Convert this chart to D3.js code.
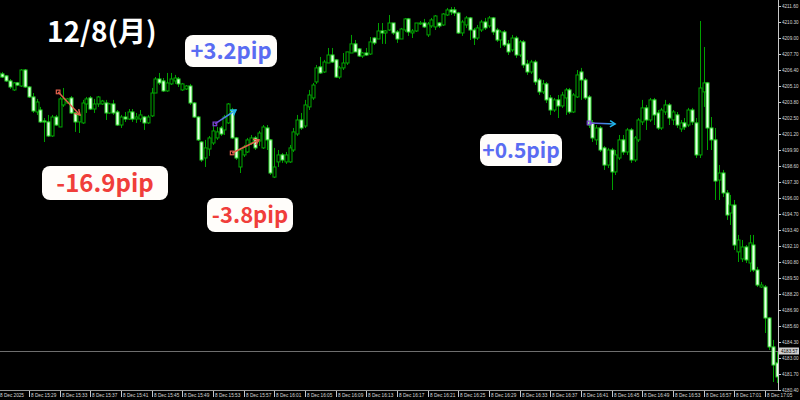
<!DOCTYPE html>
<html>
<head>
<meta charset="utf-8">
<script src="https://cdn.jsdelivr.net/npm/d3@7/dist/d3.min.js"></script>
<style>
  html, body { margin: 0; padding: 0; background: #000; overflow: hidden; }
  svg { display: block; }
</style>
</head>
<body>
<svg id="chart"></svg>
<script>
// 30秒足 OHLC (8 Dec 2025 15:25 - 17:06)
const open = [
  4205.83,4206.08,4205.92,4205.51,4204.78,4205.35,4205.10,4206.40,4205.02,4204.21,
  4202.99,4203.15,4202.26,4202.18,4201.04,4202.58,4201.77,4203.56,4203.72,4204.13,
  4202.91,4202.18,4202.10,4203.64,4204.13,4203.23,4203.64,4203.64,4203.72,4202.91,
  4203.64,4202.99,4201.93,4202.58,4202.42,4202.99,4202.42,4202.42,4202.58,4202.10,
  4202.67,4204.53,4205.67,4205.51,4204.70,4205.27,4205.51,4205.67,4204.78,4204.86,
  4205.10,4203.72,4202.58,4200.55,4199.25,4199.98,4200.47,4200.88,4201.69,4201.53,
  4202.10,4203.15,4200.88,4198.52,4199.50,4199.74,4200.47,4200.88,4200.63,4200.07,
  4201.69,4200.72,4197.70,4198.93,4199.50,4198.93,4198.93,4199.90,4201.20,4202.34,
  4201.85,4203.40,4204.13,4205.43,4206.65,4206.24,4206.97,4207.62,4207.22,4205.83,
  4206.57,4206.97,4207.78,4208.52,4208.11,4207.54,4207.78,4207.70,4209.00,4208.92,
  4209.57,4209.41,4209.65,4210.22,4209.49,4208.92,4209.65,4210.55,4209.41,4209.57,
  4210.14,4210.22,4209.25,4209.98,4209.90,4210.22,4210.06,4210.87,4211.28,4211.28,
  4211.03,4209.41,4210.06,4210.63,4209.65,4209.00,4209.65,4210.30,4209.98,4210.63,
  4209.65,4208.84,4209.49,4208.52,4208.03,4209.00,4207.62,4208.68,4206.89,4206.24,
  4207.05,4205.59,4204.62,4205.27,4204.13,4203.15,4203.97,4203.48,4204.13,4204.78,
  4202.99,4204.21,4206.24,4205.59,4204.21,4202.10,4200.72,4201.69,4200.07,4198.68,
  4199.90,4198.12,4199.25,4200.72,4199.74,4201.53,4199.09,4200.72,4202.18,4203.32,
  4202.34,4203.97,4202.91,4201.69,4202.99,4203.56,4202.34,4202.75,4201.61,4202.10,
  4201.93,4203.15,4202.10,4199.50,4204.62,4205.35,4201.69,4200.72,4197.46,4198.03,
  4196.41,4194.78,4195.43,4191.62,4191.05,4192.02,4190.72,4192.18,4190.15,4188.77,
  4188.77,4186.25,4183.90,4182.60
];
const high = [
  4206.32,4206.24,4206.00,4205.67,4205.43,4205.43,4206.48,4206.48,4205.10,4204.53,
  4204.05,4203.40,4202.50,4202.75,4202.75,4202.75,4204.21,4204.94,4204.13,4204.29,
  4202.99,4202.99,4203.97,4204.21,4204.29,4204.05,4204.29,4203.97,4203.97,4203.72,
  4203.97,4203.15,4202.75,4202.99,4203.23,4203.23,4202.91,4203.15,4202.67,4202.75,
  4204.94,4205.83,4206.16,4205.75,4206.16,4206.16,4206.00,4205.83,4205.35,4205.18,
  4205.27,4203.80,4202.67,4200.63,4200.72,4201.04,4202.10,4201.77,4201.85,4202.75,
  4203.72,4203.32,4200.96,4200.07,4200.31,4200.88,4201.12,4201.04,4201.45,4201.93,
  4201.93,4200.80,4200.07,4199.90,4199.66,4199.74,4200.31,4201.69,4202.75,4202.91,
  4203.97,4204.78,4205.35,4206.81,4207.46,4207.22,4208.19,4208.19,4207.30,4206.73,
  4207.78,4207.87,4209.25,4208.84,4208.19,4207.87,4208.19,4209.08,4209.08,4210.22,
  4210.22,4209.65,4210.87,4210.22,4209.65,4209.82,4210.63,4210.63,4209.73,4210.22,
  4210.38,4210.55,4210.30,4210.63,4210.87,4210.30,4211.03,4211.44,4211.52,4211.52,
  4211.12,4210.47,4210.79,4210.71,4209.82,4210.06,4210.47,4210.63,4210.79,4210.71,
  4209.82,4209.65,4209.65,4208.84,4209.25,4209.17,4208.84,4208.84,4207.22,4207.22,
  4207.22,4205.75,4205.59,4205.43,4204.37,4204.13,4204.37,4204.62,4204.94,4204.94,
  4204.53,4206.40,4206.57,4205.75,4204.37,4202.34,4201.93,4201.85,4200.23,4200.07,
  4200.07,4199.90,4201.12,4201.12,4201.69,4201.69,4201.04,4202.50,4203.97,4203.56,
  4204.13,4204.13,4203.15,4203.32,4203.97,4203.72,4203.15,4202.99,4202.34,4202.50,
  4203.32,4203.32,4202.50,4210.38,4208.27,4205.43,4202.58,4201.69,4198.68,4198.28,
  4196.65,4196.25,4195.84,4193.00,4192.59,4192.18,4193.00,4193.00,4190.40,4189.18,
  4188.93,4186.33,4184.47,4183.49
];
const low = [
  4205.75,4205.75,4205.43,4204.86,4204.70,4205.10,4205.02,4204.94,4204.13,4202.91,
  4202.75,4202.10,4200.55,4200.96,4200.96,4201.85,4201.77,4203.40,4203.64,4202.83,
  4201.37,4201.28,4202.02,4202.91,4203.15,4202.91,4203.40,4203.56,4202.34,4202.83,
  4202.75,4201.85,4201.69,4202.18,4202.34,4202.18,4202.10,4202.18,4201.53,4202.02,
  4202.58,4204.53,4205.18,4204.62,4204.62,4205.18,4205.27,4205.02,4204.70,4204.78,
  4203.56,4202.50,4200.63,4198.93,4198.52,4199.42,4200.31,4200.72,4201.04,4201.12,
  4202.02,4200.80,4199.09,4198.03,4199.33,4199.66,4200.31,4199.90,4200.23,4199.98,
  4199.90,4197.87,4197.62,4198.52,4198.85,4198.77,4198.85,4199.74,4201.04,4201.53,
  4201.69,4203.15,4203.97,4205.27,4206.08,4206.16,4206.97,4206.97,4205.75,4205.67,
  4206.40,4206.81,4207.78,4207.87,4207.46,4207.38,4207.54,4207.62,4208.43,4208.92,
  4208.52,4208.52,4209.57,4209.25,4208.60,4208.92,4209.49,4209.17,4209.00,4209.49,
  4210.06,4209.82,4209.08,4209.82,4209.65,4209.82,4209.98,4210.79,4210.87,4210.79,
  4209.33,4209.17,4209.82,4208.84,4208.43,4208.84,4209.49,4209.65,4209.82,4209.25,
  4208.68,4208.19,4208.27,4207.62,4207.87,4207.38,4207.46,4206.57,4206.00,4206.08,
  4205.18,4204.37,4204.45,4203.72,4202.75,4202.99,4202.50,4203.32,4202.75,4202.83,
  4202.91,4204.13,4203.97,4203.97,4201.69,4200.55,4200.31,4199.74,4198.28,4198.44,
  4196.65,4197.87,4199.09,4199.50,4199.50,4198.85,4198.93,4200.55,4201.93,4201.53,
  4202.18,4201.93,4201.53,4201.53,4202.75,4201.93,4201.93,4201.69,4201.37,4201.53,
  4201.77,4201.93,4199.25,4199.25,4203.40,4199.90,4199.90,4195.84,4195.84,4196.08,
  4194.22,4193.81,4191.78,4190.80,4190.80,4190.72,4189.99,4189.99,4188.77,4188.69,
  4185.03,4183.65,4181.05,4180.97
];
const close = [
  4206.16,4205.83,4205.51,4205.02,4205.35,4205.18,4206.40,4205.02,4204.21,4203.07,
  4203.80,4202.18,4202.18,4201.04,4202.58,4201.93,4204.05,4204.05,4204.05,4202.91,
  4202.18,4202.75,4203.72,4204.05,4203.23,4203.64,4204.21,4203.88,4202.91,4203.64,
  4202.91,4201.93,4202.58,4202.42,4202.99,4202.42,4202.58,4202.75,4202.10,4202.58,
  4204.53,4205.67,4205.35,4204.70,4205.35,4205.67,4205.75,4205.27,4205.27,4205.10,
  4203.72,4202.58,4200.72,4199.09,4200.07,4200.88,4201.45,4201.37,4201.20,4202.58,
  4203.64,4200.88,4199.25,4199.90,4200.15,4200.72,4200.88,4200.07,4201.28,4201.77,
  4200.72,4198.03,4198.52,4199.50,4199.09,4199.50,4200.07,4201.37,4202.34,4201.69,
  4203.56,4204.37,4205.18,4206.57,4206.16,4207.05,4207.62,4207.05,4205.83,4206.57,
  4206.97,4207.87,4208.52,4207.87,4207.54,4207.78,4207.62,4208.68,4208.60,4209.57,
  4209.41,4209.57,4210.22,4209.41,4208.92,4209.73,4210.55,4209.49,4209.57,4210.22,
  4210.22,4209.90,4210.14,4210.47,4210.79,4209.98,4210.95,4211.28,4211.12,4211.03,
  4209.41,4210.30,4210.63,4209.65,4209.00,4209.82,4210.30,4209.82,4210.63,4209.49,
  4208.84,4209.49,4208.43,4207.87,4209.00,4207.62,4208.68,4206.81,4206.24,4207.05,
  4205.43,4204.62,4205.27,4203.97,4203.15,4203.97,4203.48,4204.37,4204.78,4202.99,
  4204.37,4206.00,4205.59,4204.13,4201.93,4200.88,4201.69,4199.90,4198.68,4199.90,
  4198.12,4199.50,4200.72,4199.74,4201.53,4199.09,4200.88,4202.34,4203.32,4202.34,
  4203.97,4202.75,4201.69,4203.15,4203.56,4202.50,4202.99,4201.93,4202.10,4201.77,
  4203.15,4202.18,4199.50,4204.94,4205.35,4201.69,4200.72,4197.38,4198.03,4196.41,
  4194.62,4195.43,4192.18,4192.59,4192.02,4190.97,4192.35,4190.15,4188.93,4188.93,
  4186.25,4183.90,4182.43,4181.46
];
// 時間軸ラベル (8本ごと)
const timeLabels = [
  "8 Dec 2025","8 Dec 15:29","8 Dec 15:33","8 Dec 15:37","8 Dec 15:41","8 Dec 15:45",
  "8 Dec 15:49","8 Dec 15:53","8 Dec 15:57","8 Dec 16:01","8 Dec 16:05","8 Dec 16:09",
  "8 Dec 16:13","8 Dec 16:17","8 Dec 16:21","8 Dec 16:25","8 Dec 16:29","8 Dec 16:33",
  "8 Dec 16:37","8 Dec 16:41","8 Dec 16:45","8 Dec 16:49","8 Dec 16:53","8 Dec 16:57",
  "8 Dec 17:01","8 Dec 17:05"
];
const priceTicks = [
  4211.60,4210.30,4209.00,4207.70,4206.40,4205.10,4203.80,4202.50,4201.20,4199.90,
  4198.60,4197.30,4196.00,4194.70,4193.40,4192.10,4190.80,4189.50,4188.20,4186.90,
  4185.60,4184.30,4183.00,4181.70,4180.40
];
const bidPrice = 4183.57;
// 矢印: [開始バー, 開始価格, 終了バー, 終了価格, 種類]
const arrows = [
  [15.6, 4204.62, 21.3, 4202.75, "down"],
  [56.5, 4202.02, 62.0, 4203.15, "up"],
  [61.0, 4199.66, 68.0, 4200.72, "down"],
  [154.1, 4202.10, 160.9, 4202.02, "up"]
];
const notes = [
  { text: "+3.2pip", kind: "up", x: 185, y: 35, w: 92, h: 32, size: 22 },
  { text: "-16.9pip", kind: "down", x: 42, y: 166, w: 126, h: 34, size: 24 },
  { text: "-3.8pip", kind: "down", x: 207, y: 198, w: 86, h: 34, size: 22 },
  { text: "+0.5pip", kind: "up", x: 480, y: 134, w: 82, h: 32, size: 21 }
];

const width = 800;
const height = 400;
const plotRight = 778;
const plotBottom = 390;
const axisFont = "'Liberation Sans', Arial, sans-serif";

const svg = d3.select("#chart").attr("width", width).attr("height", height);
svg.append("rect").attr("width", width).attr("height", height).attr("fill", "#000");

const defs = svg.append("defs");
defs.append("clipPath").attr("id", "plot")
  .append("rect").attr("x", 0).attr("y", 0).attr("width", plotRight).attr("height", plotBottom);

// スケール
const x = d3.scaleLinear().domain([0, 200]).range([-1.67, 765]);
const y = d3.scaleLinear().domain([4180.40, 4211.60]).range([390, 6]);

const bars = open.map((o, i) => ({ i, o, h: high[i], l: low[i], c: close[i] }));

const g = svg.append("g").attr("clip-path", "url(#plot)");

// 現在値ライン
g.append("line")
  .attr("x1", 0).attr("x2", plotRight)
  .attr("y1", Math.round(y(bidPrice)) + 0.5).attr("y2", Math.round(y(bidPrice)) + 0.5)
  .attr("stroke", "#6e6e6e").attr("stroke-width", 1);

// ヒゲ
g.selectAll("line.wick").data(bars).join("line")
  .attr("class", "wick")
  .attr("x1", d => Math.round(x(d.i)) + 0.5)
  .attr("x2", d => Math.round(x(d.i)) + 0.5)
  .attr("y1", d => y(d.h))
  .attr("y2", d => y(d.l))
  .attr("stroke", "#00a000")
  .attr("stroke-width", 1);

// 実体
g.selectAll("rect.body").data(bars).join("rect")
  .attr("class", "body")
  .attr("x", d => Math.round(x(d.i)) - 1)
  .attr("y", d => y(Math.max(d.o, d.c)))
  .attr("width", 3)
  .attr("height", d => Math.max(1, Math.abs(y(d.o) - y(d.c))))
  .attr("fill", d => d.c >= d.o ? "#000" : "#eaffea")
  .attr("stroke", d => d.c >= d.o ? "#00a800" : "#2ee02e")
  .attr("stroke-width", 1);

// 矢印
arrows.forEach((a, k) => {
  const x1 = x(a[0]), y1 = y(a[1]), x2 = x(a[2]), y2 = y(a[3]);
  const up = a[4] === "up";
  const startCol = up ? "#7b3fd6" : "#e0604c";
  const endCol = up ? "#21b7ee" : "#e0604c";
  let stroke = endCol;
  if (up) {
    const gid = "ag" + k;
    const lg = defs.append("linearGradient").attr("id", gid)
      .attr("gradientUnits", "userSpaceOnUse")
      .attr("x1", x1).attr("y1", y1).attr("x2", x2).attr("y2", y2);
    lg.append("stop").attr("offset", "0%").attr("stop-color", startCol);
    lg.append("stop").attr("offset", "100%").attr("stop-color", endCol);
    stroke = `url(#${gid})`;
  }
  svg.append("line")
    .attr("x1", x1).attr("y1", y1).attr("x2", x2).attr("y2", y2)
    .attr("stroke", stroke).attr("stroke-width", 1.5);
  svg.append("rect")
    .attr("x", x1 - 1.8).attr("y", y1 - 1.8).attr("width", 3.6).attr("height", 3.6)
    .attr("fill", "none").attr("stroke", startCol).attr("stroke-width", 1.2);
  const ang = Math.atan2(y2 - y1, x2 - x1);
  const L = 6, spread = 0.55;
  const p = [
    [x2 - L * Math.cos(ang - spread), y2 - L * Math.sin(ang - spread)],
    [x2, y2],
    [x2 - L * Math.cos(ang + spread), y2 - L * Math.sin(ang + spread)]
  ];
  svg.append("polyline")
    .attr("points", p.map(q => q.join(",")).join(" "))
    .attr("fill", "none").attr("stroke", endCol).attr("stroke-width", 1.5);
});

// 軸の枠線
svg.append("line")
  .attr("x1", plotRight + 0.5).attr("x2", plotRight + 0.5)
  .attr("y1", 0).attr("y2", plotBottom)
  .attr("stroke", "#c8c8c8");
svg.append("line")
  .attr("x1", 0).attr("x2", plotRight + 1)
  .attr("y1", plotBottom + 0.5).attr("y2", plotBottom + 0.5)
  .attr("stroke", "#9a9a9a");

// 価格軸
const ya = svg.append("g");
priceTicks.forEach(v => {
  const yy = Math.round(y(v)) + 0.5;
  ya.append("line").attr("x1", plotRight).attr("x2", plotRight + 3)
    .attr("y1", yy).attr("y2", yy).attr("stroke", "#c8c8c8");
  ya.append("text").attr("x", plotRight + 4).attr("y", yy + 1.7)
    .attr("fill", "#d8d8d8")
    .attr("font-family", axisFont)
    .attr("font-size", 4.6)
    .text(v.toFixed(2));
});
// 現在値ラベル
const by = Math.round(y(bidPrice));
svg.append("rect").attr("x", plotRight + 1).attr("y", by - 3.5).attr("width", 20).attr("height", 7)
  .attr("fill", "#d0d0d0");
svg.append("text").attr("x", plotRight + 3).attr("y", by + 1.7)
  .attr("fill", "#000").attr("font-family", axisFont)
  .attr("font-size", 4.6).text(bidPrice.toFixed(2));

// 時間軸
const xa = svg.append("g");
timeLabels.forEach((t, k) => {
  const xx = Math.round(x(k * 8)) + 0.5;
  xa.append("line").attr("x1", xx).attr("x2", xx)
    .attr("y1", plotBottom + 1).attr("y2", plotBottom + 7)
    .attr("stroke", "#c8c8c8");
  xa.append("text").attr("x", xx + 1.5).attr("y", plotBottom + 6.8)
    .attr("fill", "#d8d8d8")
    .attr("font-family", axisFont)
    .attr("font-size", 4.7)
    .text(t);
});

// 日付
svg.append("text")
  .attr("x", 47).attr("y", 42)
  .attr("fill", "#fff")
  .attr("font-family", "'Noto Sans CJK JP', sans-serif")
  .attr("font-weight", "bold")
  .attr("font-size", 28)
  .text("12/8(月)");

// pip ラベル
const ng = svg.selectAll("g.note").data(notes).join("g").attr("class", "note");
ng.append("rect")
  .attr("x", d => d.x).attr("y", d => d.y)
  .attr("width", d => d.w).attr("height", d => d.h)
  .attr("rx", 8)
  .attr("fill", "#fffdfa");
ng.append("text")
  .attr("x", d => d.x + d.w / 2)
  .attr("y", d => d.y + d.h / 2 + d.size * 0.36)
  .attr("text-anchor", "middle")
  .attr("fill", d => d.kind === "up" ? "#5a6cf2" : "#f03e3a")
  .attr("font-family", "'Noto Sans CJK JP', sans-serif")
  .attr("font-weight", "bold")
  .attr("font-size", d => d.size)
  .text(d => d.text);
</script>
</body>
</html>
